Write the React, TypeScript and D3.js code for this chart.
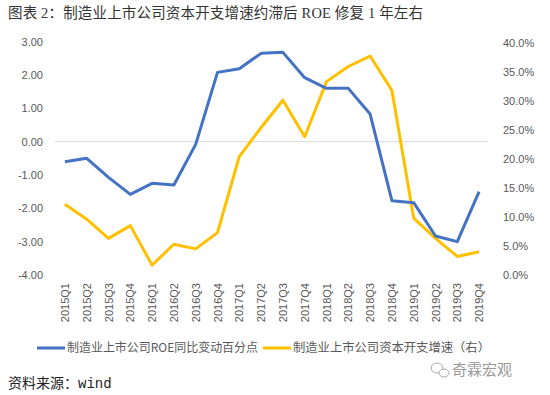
import React, { useRef, useEffect } from "react";
import * as d3 from "d3";

// quarters on the x axis
const quarters = [
  "2015Q1", "2015Q2", "2015Q3", "2015Q4",
  "2016Q1", "2016Q2", "2016Q3", "2016Q4",
  "2017Q1", "2017Q2", "2017Q3", "2017Q4",
  "2018Q1", "2018Q2", "2018Q3", "2018Q4",
  "2019Q1", "2019Q2", "2019Q3", "2019Q4",
];

// ROE yoy change, percentage points (left axis)
const roeChange = [
  -0.6, -0.5, -1.07, -1.58, -1.25, -1.3, -0.08, 2.08, 2.19, 2.65,
  2.68, 1.92, 1.6, 1.6, 0.83, -1.77, -1.83, -2.83, -3.0, -1.5,
];

// capex growth, % (right axis)
const capexGrowth = [
  12.2, 9.6, 6.3, 8.5, 1.7, 5.3, 4.5, 7.3, 20.4, 25.4,
  30.1, 23.8, 33.3, 35.9, 37.7, 31.8, 9.8, 6.3, 3.2, 4.0,
];

const leftTicks = [-4, -3, -2, -1, 0, 1, 2, 3];
const rightTicks = [0, 5, 10, 15, 20, 25, 30, 35, 40];

const titleText = "图表 2：制造业上市公司资本开支增速约滞后 ROE 修复 1 年左右";
const legendNames = ["制造业上市公司ROE同比变动百分点", "制造业上市公司资本开支增速（右）"];
const sourceText = "资料来源：wind";
const markText = "奇霖宏观";

const BLUE = "#4472C4";
const YELLOW = "#FFC000";
const GRAY = "#595959";
const SANS = "'Liberation Sans', Arial, sans-serif";
const CJK = "'Noto Sans CJK SC', sans-serif";
const SERIF_CJK = "'Liberation Serif', 'Noto Sans CJK SC', serif";
const MONO_CJK = "'Liberation Mono', 'Noto Sans CJK SC', monospace";

const App = () => {
  const ref = useRef(null);

  useEffect(() => {
    d3.select(ref.current).selectAll("*").remove();

    const W = 550;
    const H = 395;
    const svg = d3
      .select(ref.current)
      .append("svg")
      .attr("width", W)
      .attr("height", H)
      .style("display", "block")
      .style("background", "#fff");

    // plot area
    const left = 54;
    const right = 490;
    const top = 41.7;
    const bottom = 275;

    const x = d3.scalePoint().domain(quarters).range([left, right]).padding(0.5);
    const yL = d3.scaleLinear().domain([-4, 3]).range([bottom, top]);
    const yR = d3.scaleLinear().domain([0, 40]).range([bottom, top + 1]);

    // title
    svg
      .append("text")
      .attr("x", 8)
      .attr("y", 18)
      .attr("font-family", SERIF_CJK)
      .attr("font-size", 14.5)
      .attr("fill", "#333")
      .attr("textLength", 415)
      .attr("lengthAdjust", "spacing")
      .text(titleText);

    // left axis labels
    svg
      .append("g")
      .selectAll("text")
      .data(leftTicks)
      .enter()
      .append("text")
      .attr("x", 43)
      .attr("y", (d) => yL(d))
      .attr("dy", "0.35em")
      .attr("text-anchor", "end")
      .attr("font-family", SANS)
      .attr("font-size", 11)
      .attr("fill", GRAY)
      .text((d) => d3.format(".2f")(d).replace("−", "-"));

    // right axis labels
    svg
      .append("g")
      .selectAll("text")
      .data(rightTicks)
      .enter()
      .append("text")
      .attr("x", 503)
      .attr("y", (d) => yR(d))
      .attr("dy", "0.35em")
      .attr("font-family", SANS)
      .attr("font-size", 11)
      .attr("fill", GRAY)
      .text((d) => d3.format(".1f")(d) + "%");

    // zero line
    svg
      .append("line")
      .attr("x1", left + 1)
      .attr("x2", right - 2)
      .attr("y1", yL(0))
      .attr("y2", yL(0))
      .attr("stroke", "#d9d9d9")
      .attr("stroke-width", 1);

    // category labels, rotated
    svg
      .append("g")
      .selectAll("text")
      .data(quarters)
      .enter()
      .append("text")
      .attr("transform", (d) => "translate(" + (x(d) + 4) + ",283) rotate(-90)")
      .attr("text-anchor", "end")
      .attr("font-family", SANS)
      .attr("font-size", 11)
      .attr("fill", GRAY)
      .text((d) => d);

    const lineL = d3
      .line<number>()
      .x((d, i) => x(quarters[i]))
      .y((d) => yL(d));
    const lineR = d3
      .line<number>()
      .x((d, i) => x(quarters[i]))
      .y((d) => yR(d));

    svg
      .append("path")
      .attr("d", lineR(capexGrowth))
      .attr("fill", "none")
      .attr("stroke", YELLOW)
      .attr("stroke-width", 3)
      .attr("stroke-linejoin", "round");

    svg
      .append("path")
      .attr("d", lineL(roeChange))
      .attr("fill", "none")
      .attr("stroke", BLUE)
      .attr("stroke-width", 3)
      .attr("stroke-linejoin", "round");

    // legend
    const legend = [
      { name: legendNames[0], color: BLUE, x: 37, w: 191 },
      { name: legendNames[1], color: YELLOW, x: 263, w: 197 },
    ];
    const lg = svg.append("g");
    legend.forEach((l) => {
      lg.append("line")
        .attr("x1", l.x)
        .attr("x2", l.x + 28)
        .attr("y1", 348)
        .attr("y2", 348)
        .attr("stroke", l.color)
        .attr("stroke-width", 3);
      lg.append("text")
        .attr("x", l.x + 30)
        .attr("y", 348)
        .attr("dy", "0.35em")
        .attr("font-family", CJK)
        .attr("font-size", 12)
        .attr("fill", GRAY)
        .attr("textLength", l.w)
        .attr("lengthAdjust", "spacingAndGlyphs")
        .text(l.name);
    });

    // watermark
    const wm = svg.append("g").attr("fill", "none").attr("stroke", "#aaa").attr("stroke-width", 1);
    wm.append("ellipse").attr("cx", 437).attr("cy", 368).attr("rx", 6).attr("ry", 5);
    wm.append("ellipse").attr("cx", 444).attr("cy", 373).attr("rx", 5).attr("ry", 4).attr("fill", "#fff");
    svg
      .append("text")
      .attr("x", 452)
      .attr("y", 370)
      .attr("dy", "0.35em")
      .attr("font-family", CJK)
      .attr("font-size", 15)
      .attr("fill", "#999")
      .text(markText);

    // source
    svg
      .append("text")
      .attr("x", 8)
      .attr("y", 388)
      .attr("font-family", MONO_CJK)
      .attr("font-size", 14)
      .attr("fill", "#222")
      .text(sourceText);
  }, []);

  return <div ref={ref} style={{ position: "absolute", left: 0, top: 0 }}></div>;
};

export default App;
